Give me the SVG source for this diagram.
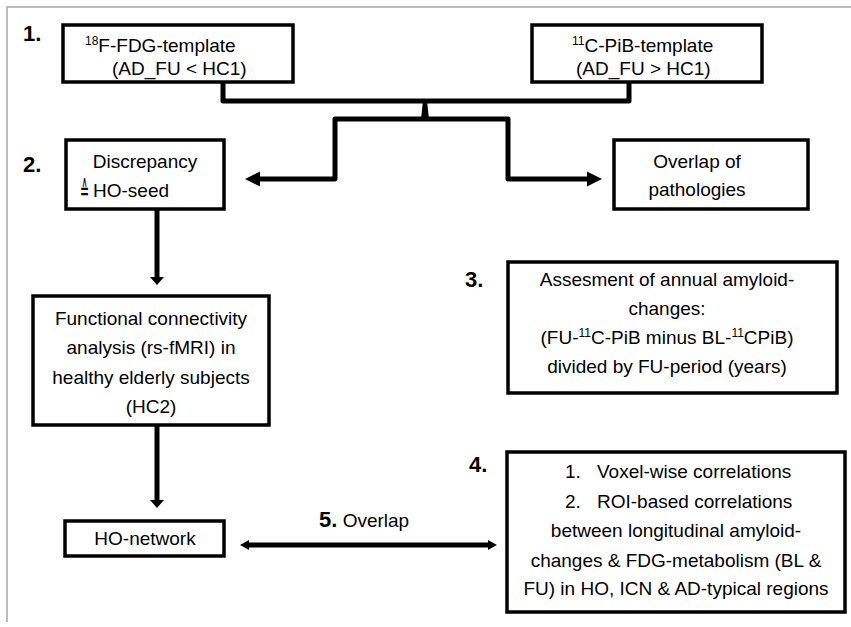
<svg xmlns="http://www.w3.org/2000/svg" width="851" height="627" viewBox="0 0 851 627">
<style>
.box{fill:#fff;stroke:#000;stroke-width:3.5}
.t{font-family:"Liberation Sans",Arial,sans-serif;font-size:19px;fill:#000}
.c{text-anchor:middle}
.num{font-family:"Liberation Sans",Arial,sans-serif;font-size:22px;font-weight:bold;fill:#000}
.sup{font-size:12px}
.ln{fill:none;stroke:#000;stroke-width:5;stroke-linejoin:round}
.ah{fill:#000;stroke:none}
</style>
<rect width="851" height="627" fill="#fff"/>
<path d="M7,622 V7 H851" fill="none" stroke="#a6a6a6" stroke-width="1.5"/>

<g id="connectors">
  <path class="ln" d="M223,82 V101 H629 V82"/>
  <polygon class="ah" points="423,101 427,101 429,119 421,119"/>
  <path class="ln" d="M259,179 H335 V119 H508 V179 H588"/>
  <polygon class="ah" points="245,179 260,171.5 260,186.5"/>
  <polygon class="ah" points="602,179 587,171.5 587,186.5"/>
  <path class="ln" d="M157,209 V278"/>
  <polygon class="ah" points="157,285 150,277 164,277"/>
  <path class="ln" d="M157,425 V501"/>
  <polygon class="ah" points="157,508 150,500 164,500"/>
  <path class="ln" d="M247,545 H490"/>
  <polygon class="ah" points="240,545 249,540 249,550"/>
  <polygon class="ah" points="497,545 488,540 488,550"/>
  <text class="t" x="319" y="527"><tspan class="num" font-size="20">5.</tspan> Overlap</text>
</g>

<g id="label1"><text class="num" x="23" y="41">1.</text></g>
<g id="label2"><text class="num" x="23" y="172">2.</text></g>
<g id="label3"><text class="num" x="465" y="287">3.</text></g>
<g id="label4"><text class="num" x="469" y="472">4.</text></g>

<g id="fdg-template">
  <rect class="box" x="63" y="25" width="230" height="57"/>
  <text class="t" x="85" y="52"><tspan class="sup" dy="-7">18</tspan><tspan dy="7">F-FDG-template</tspan></text>
  <text class="t" x="112" y="75">(AD_FU &lt; HC1)</text>
</g>

<g id="pib-template">
  <rect class="box" x="532" y="25" width="230" height="57"/>
  <text class="t" x="572" y="52"><tspan class="sup" dy="-7">11</tspan><tspan dy="7">C-PiB-template</tspan></text>
  <text class="t" x="576" y="75">(AD_FU &gt; HC1)</text>
</g>

<g id="discrepancy">
  <rect class="box" x="66" y="140" width="158" height="69"/>
  <text class="t c" x="145" y="168">Discrepancy</text>
  <text transform="translate(80,200) scale(0.4,1)" font-family="DejaVu Sans, sans-serif" font-size="27">≙</text>
  <text class="t" x="93" y="197">HO-seed</text>
</g>

<g id="overlap-pathologies">
  <rect class="box" x="614" y="140" width="194" height="69"/>
  <text class="t c" x="697" y="168">Overlap of</text>
  <text class="t c" x="697" y="196">pathologies</text>
</g>

<g id="functional-connectivity">
  <rect class="box" x="33" y="296" width="236" height="129"/>
  <text class="t c" x="151" y="325">Functional connectivity</text>
  <text class="t c" x="151" y="354">analysis (rs-fMRI) in</text>
  <text class="t c" x="151" y="384">healthy elderly subjects</text>
  <text class="t c" x="151" y="413">(HC2)</text>
</g>

<g id="annual-amyloid">
  <rect class="box" x="508" y="262" width="329" height="131"/>
  <text class="t c" x="667" y="286">Assesment of annual amyloid-</text>
  <text class="t c" x="667" y="315">changes:</text>
  <text class="t c" x="667" y="344">(FU-<tspan class="sup" dy="-7">11</tspan><tspan dy="7">C-PiB minus BL-</tspan><tspan class="sup" dy="-7">11</tspan><tspan dy="7">CPiB)</tspan></text>
  <text class="t c" x="667" y="373">divided by FU-period (years)</text>
</g>

<g id="ho-network">
  <rect class="box" x="65" y="521" width="159" height="35"/>
  <text class="t c" x="145" y="545">HO-network</text>
</g>

<g id="correlations">
  <rect class="box" x="507" y="452" width="338" height="160"/>
  <text class="t" x="565" y="478">1.</text>
  <text class="t" x="597" y="478">Voxel-wise correlations</text>
  <text class="t" x="565" y="508">2.</text>
  <text class="t" x="597" y="508">ROI-based correlations</text>
  <text class="t c" x="676" y="537">between longitudinal amyloid-</text>
  <text class="t c" x="676" y="567">changes &amp; FDG-metabolism (BL &amp;</text>
  <text class="t c" x="676" y="595">FU) in HO, ICN &amp; AD-typical regions</text>
</g>
</svg>
